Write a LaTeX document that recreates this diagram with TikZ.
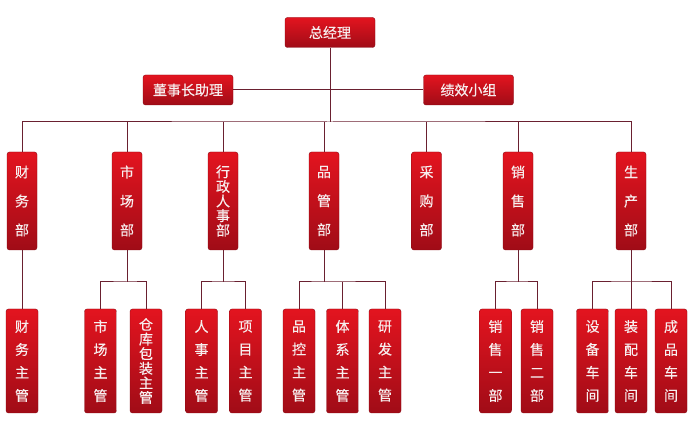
\documentclass[tikz,border=0pt]{standalone}
\usepackage{fontspec}
\newfontfamily\cjk[FakeBold=0.3]{Noto Sans CJK SC}
\definecolor{boxtop}{HTML}{E3141F}
\definecolor{boxbot}{HTML}{A00C17}
\definecolor{boxedge}{HTML}{8A0A14}
\definecolor{linec}{HTML}{6A2030}
\definecolor{txt}{HTML}{F7EEEE}
\tikzset{
  box/.style={rounded corners=2.5pt, top color=boxtop, bottom color=boxbot, draw=boxedge, line width=0.4pt, text=txt, inner sep=0pt, align=center},
  hbox/.style={box, minimum width=90pt, minimum height=30pt, font=\cjk\fontsize{14}{14}\selectfont},
  dbox/.style={box, minimum width=30pt, minimum height=98pt},
  sbox/.style={box, minimum width=32pt, minimum height=104pt},
  vthree/.style={font=\cjk\fontsize{14}{29}\selectfont},
  vfour/.style={font=\cjk\fontsize{14}{23}\selectfont},
  vtight/.style={font=\cjk\fontsize{14}{14.6}\selectfont},
  link/.style={draw=linec, line width=1pt}
}
\begin{document}
\begin{tikzpicture}[x=1pt,y=-1pt]
\fill[white] (0,0) rectangle (694,430);
\useasboundingbox (0,0) rectangle (694,430);

% top levels
\node[hbox] (gm) at (330,32.5) {总经理};
\node[hbox] (zs) at (188,90) {董事长助理};
\node[hbox] (jx) at (468.5,90) {绩效小组};

% departments
\node[dbox,vthree] (d1) at (22,201) {财\\务\\部};
\node[dbox,vthree] (d2) at (127,201) {市\\场\\部};
\node[dbox,vtight] (d3) at (223,201) {行\\政\\人\\事\\部};
\node[dbox,vthree] (d4) at (324,201) {品\\管\\部};
\node[dbox,vthree] (d5) at (426.5,201) {采\\购\\部};
\node[dbox,vthree] (d6) at (518,201) {销\\售\\部};
\node[dbox,vthree] (d7) at (631,201) {生\\产\\部};

% sub units
\node[sbox,vfour] (s1) at (22,361) {财\\务\\主\\管};
\node[sbox,vfour] (s2) at (100.5,361) {市\\场\\主\\管};
\node[sbox,vtight] (s3) at (146,361) {仓\\库\\包\\装\\主\\管};
\node[sbox,vfour] (s4) at (201.5,361) {人\\事\\主\\管};
\node[sbox,vfour] (s5) at (245.5,361) {项\\目\\主\\管};
\node[sbox,vfour] (s6) at (299,361) {品\\控\\主\\管};
\node[sbox,vfour] (s7) at (342.5,361) {体\\系\\主\\管};
\node[sbox,vfour] (s8) at (385,361) {研\\发\\主\\管};
\node[sbox,vfour] (s9) at (495.5,361) {销\\售\\一\\部};
\node[sbox,vfour] (s10) at (537,361) {销\\售\\二\\部};
\node[sbox,vfour] (s11) at (592.5,361) {设\\备\\车\\间};
\node[sbox,vfour] (s12) at (631,361) {装\\配\\车\\间};
\node[sbox,vfour] (s13) at (671,361) {成\\品\\车\\间};

% bus coordinates
\coordinate (bus) at (330,122);
\coordinate (b2) at (127,282);
\coordinate (b3) at (223,282);
\coordinate (b4) at (324,282);
\coordinate (b6) at (518,282);
\coordinate (b7) at (631,282);

% connectors
\draw[link] (gm.south) -- (bus);
\draw[link] (zs.east) -- (jx.west);
\draw[link] (d1.north) |- (bus) -| (d7.north);
\foreach \d in {d2,d3,d4,d5,d6} \draw[link] (\d.north) -- (\d.north |- bus);

\draw[link] (d1.south) -- (s1.north);

\draw[link] (d2.south) -- (b2);
\draw[link] (s2.north) |- (b2) -| (s3.north);

\draw[link] (d3.south) -- (b3);
\draw[link] (s4.north) |- (b3) -| (s5.north);

\draw[link] (d4.south) -- (b4);
\draw[link] (s6.north) |- (b4) -| (s8.north);
\draw[link] (s7.north) -- (s7.north |- b4);

\draw[link] (d6.south) -- (b6);
\draw[link] (s9.north) |- (b6) -| (s10.north);

\draw[link] (d7.south) -- (s12.north);
\draw[link] (s11.north) |- (b7) -| (s13.north);
\end{tikzpicture}
\end{document}
